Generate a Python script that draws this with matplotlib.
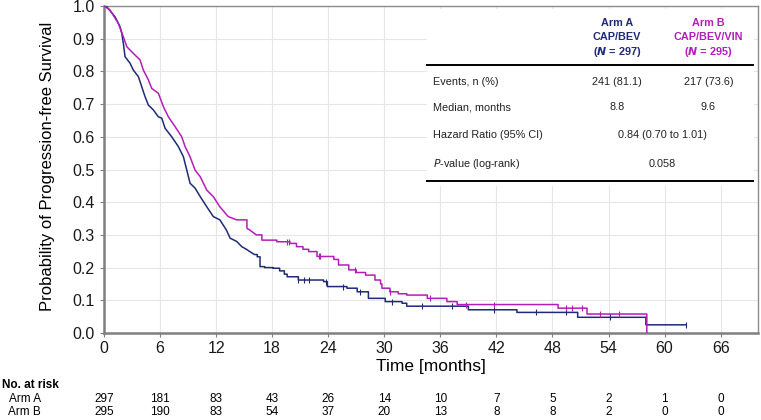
import numpy as np
import matplotlib
matplotlib.use("Agg")
import matplotlib.pyplot as plt
from matplotlib.patches import Rectangle

# Kaplan-Meier curves (time in months, survival)
arm_a_t = [0, 0.29, 1.18, 1.71, 1.9, 2.07, 2.25, 2.79, 3.14, 3.68, 4.04, 4.39,
           4.75, 5.29, 5.82, 6.18, 6.54, 7.25, 7.96, 8.5, 8.86, 9.21, 9.75,
           10.3, 11.0, 11.7, 12.4, 13.1, 13.5, 14.2, 14.75, 15.3, 15.6, 16.1,
           16.4, 16.7, 17.2, 18.1, 18.8, 19.3, 19.6, 20.8, 23.5, 23.9, 26.0,
           27.1, 28.3, 30.1, 31.9, 32.4, 39.0, 44.2, 50.7, 58.0, 62.3]
arm_a_s = [1.0, 0.998, 0.967, 0.937, 0.917, 0.886, 0.845, 0.825, 0.804, 0.784,
           0.753, 0.723, 0.697, 0.682, 0.661, 0.657, 0.626, 0.600, 0.570, 0.539,
           0.498, 0.458, 0.443, 0.417, 0.386, 0.356, 0.346, 0.315, 0.290, 0.28,
           0.264, 0.255, 0.249, 0.24, 0.233, 0.203, 0.20, 0.198, 0.19, 0.18,
           0.172, 0.162, 0.157, 0.142, 0.137, 0.126, 0.106, 0.096, 0.091, 0.082,
           0.071, 0.063, 0.048, 0.025, 0.025]
arm_b_t = [0, 0.64, 1.53, 2.07, 2.43, 3.14, 3.86, 4.21, 4.75, 5.11, 5.82, 6.36,
           6.89, 7.61, 8.32, 8.68, 9.21, 9.75, 10.3, 11.0, 11.7, 12.4, 13.3,
           14.2, 15.3, 15.6, 16.3, 16.9, 18.5, 19.9, 20.6, 21.3, 21.9, 22.8,
           24.6, 25.1, 26.2, 27.0, 28.0, 29.0, 29.6, 29.75, 30.6, 31.5, 32.4,
           34.6, 36.7, 37.8, 48.6, 51.7, 58.1]
arm_b_s = [1.0, 0.988, 0.947, 0.906, 0.876, 0.855, 0.835, 0.804, 0.774, 0.748,
           0.733, 0.692, 0.661, 0.631, 0.600, 0.570, 0.539, 0.498, 0.478, 0.437,
           0.417, 0.386, 0.356, 0.346, 0.320, 0.315, 0.30, 0.284, 0.279, 0.274,
           0.264, 0.256, 0.249, 0.234, 0.225, 0.208, 0.193, 0.185, 0.177, 0.162,
           0.150, 0.137, 0.126, 0.12, 0.116, 0.106, 0.096, 0.087, 0.076, 0.058,
           0.0]

# censoring marks
cens_a = [20.8, 21.4, 21.9, 23.8, 25.6, 27.4, 30.8, 34.0, 37.3, 41.7, 46.2,
          49.4, 54.2, 62.3]
cens_b = [19.6, 19.75, 23.0, 23.1, 26.9, 30.6, 34.9, 38.7, 41.7, 49.4, 50.1,
          51.2, 53.1, 55.1]

# numbers at risk
risk_times = [0, 6, 12, 18, 24, 30, 36, 42, 48, 54, 60, 66]
risk_a = [297, 181, 83, 43, 26, 14, 10, 7, 5, 2, 1, 0]
risk_b = [295, 190, 83, 54, 37, 20, 13, 8, 8, 2, 0, 0]

NAVY = "#1f2a78"
MAGENTA = "#b21eb8"
TXT = "#222222"
plt.rcParams["font.family"] = ["Liberation Sans", "DejaVu Sans"]


def km_path(ts, ss, gap=1.1, dense_until=16.0):
    # dense early part drawn as a jagged line, sparse tail as plain steps
    xs, ys = [ts[0]], [ss[0]]
    for i in range(1, len(ts)):
        if ts[i] - ts[i - 1] > gap or ts[i - 1] >= dense_until:
            xs.append(ts[i])
            ys.append(ss[i - 1])
        xs.append(ts[i])
        ys.append(ss[i])
    return xs, ys


def step_value(ts, ss, t):
    i = np.searchsorted(ts, t, side="right") - 1
    return np.asarray(ss)[i]


fig = plt.figure(figsize=(7.61, 4.2), dpi=100)
ax = fig.add_axes([104 / 761, 1 - 333 / 420, 654 / 761, 327 / 420])

ax.plot(*km_path(arm_a_t, arm_a_s), color=NAVY, lw=1.1, zorder=3)
ax.plot(*km_path(arm_b_t, arm_b_s), color=MAGENTA, lw=1.1, zorder=3)
ax.plot(cens_a, [step_value(arm_a_t, arm_a_s, t) for t in cens_a],
        ls="none", marker="|", ms=5, mew=0.8, color=NAVY, zorder=3)
ax.plot(cens_b, [step_value(arm_b_t, arm_b_s, t) for t in cens_b],
        ls="none", marker="|", ms=5, mew=0.8, color=MAGENTA, zorder=3)

ax.set_xlim(0, 70)
ax.set_ylim(0, 1.0)
ax.set_xticks(risk_times)
ax.set_yticks(np.arange(0, 1.01, 0.1))
ax.set_yticklabels([f"{v:.1f}" for v in np.arange(0, 1.01, 0.1)], fontsize=11.5)
ax.set_xticklabels([str(t) for t in risk_times], fontsize=11.5)
ax.grid(True, color="#e6e6e6", lw=0.8, zorder=0)
ax.set_axisbelow(True)
for side in ["left", "bottom"]:
    ax.spines[side].set_color("#7f7f7f")
    ax.spines[side].set_linewidth(1.8)
for side in ["top", "right"]:
    ax.spines[side].set_color("#8c8c8c")
    ax.spines[side].set_linewidth(1.0)
ax.tick_params(axis="both", direction="out", length=3, color="#7f7f7f",
               labelcolor="#1a1a1a")
ax.tick_params(axis="x", pad=3)
ax.set_ylabel("Probability of Progression-free Survival", fontsize=12)
ax.yaxis.set_label_coords(-0.075, 0.51)
ax.set_xlabel("Time [months]", fontsize=12.5, labelpad=2)

# summary table in the upper right
ax.add_patch(Rectangle((0.494, 0.45), 0.50, 0.54, transform=ax.transAxes,
                       facecolor="white", edgecolor="none", zorder=2))
tkw = dict(transform=ax.transAxes, fontsize=7.8, zorder=4)
for txt, y in [("Arm A", 0.948), ("CAP/BEV", 0.904)]:
    ax.text(0.784, y, txt, ha="center", va="center", color=NAVY, weight="bold", **tkw)
ax.text(0.784, 0.86, r"($\bfit{N}$ = 297)", ha="center", va="center", color=NAVY,
        weight="bold", **tkw)
for txt, y in [("Arm B", 0.948), ("CAP/BEV/VIN", 0.904)]:
    ax.text(0.924, y, txt, ha="center", va="center", color=MAGENTA, weight="bold", **tkw)
ax.text(0.924, 0.86, r"($\bfit{N}$ = 295)", ha="center", va="center", color=MAGENTA,
        weight="bold", **tkw)
ax.plot([0.494, 0.992], [0.820, 0.820], transform=ax.transAxes, color="black",
        lw=1.4, zorder=4, clip_on=False)
ax.plot([0.494, 0.992], [0.465, 0.465], transform=ax.transAxes, color="black",
        lw=1.4, zorder=4, clip_on=False)

rows = [("Events, n (%)", 0.768), ("Median, months", 0.691),
        ("Hazard Ratio (95% CI)", 0.606)]
for label, y in rows:
    ax.text(0.503, y, label, ha="left", va="center", color=TXT, **tkw)
ax.text(0.503, 0.517, r"$\it{P}$-value (log-rank)", ha="left", va="center",
        color=TXT, **tkw)
ax.text(0.784, 0.768, "241 (81.1)", ha="center", va="center", color=TXT, **tkw)
ax.text(0.924, 0.768, "217 (73.6)", ha="center", va="center", color=TXT, **tkw)
ax.text(0.784, 0.691, "8.8", ha="center", va="center", color=TXT, **tkw)
ax.text(0.924, 0.691, "9.6", ha="center", va="center", color=TXT, **tkw)
ax.text(0.854, 0.606, "0.84 (0.70 to 1.01)", ha="center", va="center", color=TXT, **tkw)
ax.text(0.854, 0.517, "0.058", ha="center", va="center", color=TXT, **tkw)

# numbers at risk below the axis
blend = matplotlib.transforms.blended_transform_factory(ax.transData, fig.transFigure)
fig.text(2 / 761, 1 - 385 / 420, "No. at risk", ha="left", va="center",
         weight="bold", fontsize=8.5)
fig.text(41 / 761, 1 - 399 / 420, "Arm A", ha="right", va="center", fontsize=8.5)
fig.text(41 / 761, 1 - 412 / 420, "Arm B", ha="right", va="center", fontsize=8.5)
for t, a, b in zip(risk_times, risk_a, risk_b):
    ax.text(t, 1 - 399 / 420, str(a), transform=blend, ha="center", va="center",
            fontsize=8.5, clip_on=False)
    ax.text(t, 1 - 412 / 420, str(b), transform=blend, ha="center", va="center",
            fontsize=8.5, clip_on=False)

fig.savefig("out.png", dpi=100)
